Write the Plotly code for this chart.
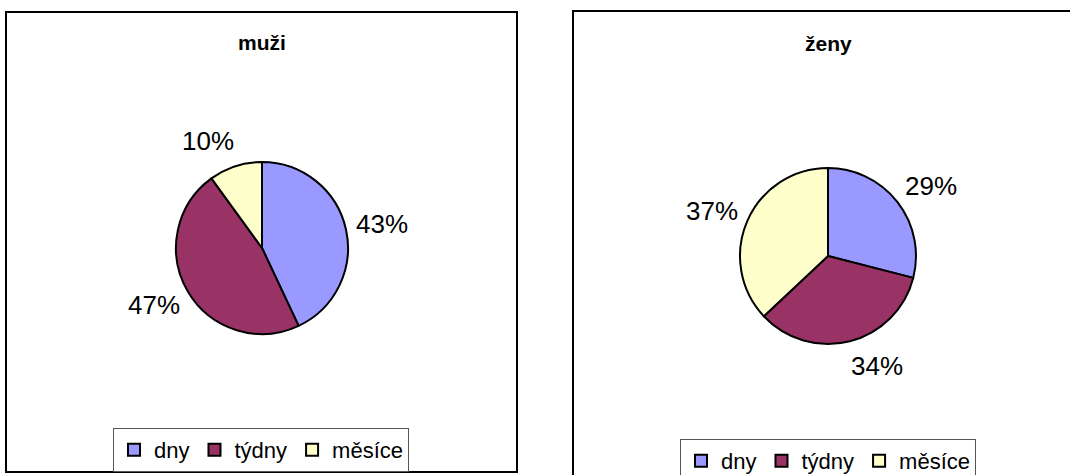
import math
import plotly.graph_objects as go

# Answer categories and shares (%) for each group
categories = ["dny", "týdny", "měsíce"]
men_share = [43, 47, 10]
women_share = [29, 34, 37]
colors = ["#9999FF", "#993366", "#FFFFCC"]

W, H = 1070, 475
FONT = "Liberation Sans, Arial, sans-serif"


def px_x(x):
    return x / W


def px_y(y):
    return 1 - y / H


def pie_domain(cx, cy, r):
    return dict(x=[px_x(cx - r), px_x(cx + r)], y=[px_y(cy + r), px_y(cy - r)])


def percent_labels(values, cx, cy, r, gap=12, half_w=24, half_h=14):
    """Percent labels set just outside each slice, at the slice's mid-angle."""
    total = sum(values)
    notes = []
    start = 0.0
    for v in values:
        mid = (start + v / 2) / total * 2 * math.pi
        start += v
        dx, dy = math.sin(mid), -math.cos(mid)
        x = cx + dx * (r + gap) + half_w * (1 if dx >= 0 else -1)
        y = cy + dy * (r + gap) + half_h * dy
        notes.append(dict(
            text=f"{round(v / total * 100)}%", x=px_x(x), y=px_y(y),
            xref="paper", yref="paper", xanchor="center", yanchor="middle",
            showarrow=False, font=dict(family=FONT, size=26, color="black")))
    return notes


pies = [
    # values, centre x, centre y, radius, legend, label suffix
    (men_share, 262, 248, 86, "legend", ""),
    (women_share, 828, 256, 88, "legend2", "\u200b"),
]

fig = go.Figure()
annotations = []
for values, cx, cy, r, leg, suffix in pies:
    fig.add_trace(go.Pie(
        labels=[c + suffix for c in categories], values=values, sort=False,
        direction="clockwise", rotation=0, domain=pie_domain(cx, cy, r),
        marker=dict(colors=colors, line=dict(color="black", width=2)),
        textinfo="none", hoverinfo="label+percent",
        legend=leg, showlegend=True,
    ))
    annotations += percent_labels(values, cx, cy, r)

legend_style = dict(
    orientation="h", xanchor="center", yanchor="top",
    bgcolor="white", bordercolor="#555555", borderwidth=1,
    font=dict(family=FONT, size=22, color="black"),
    traceorder="normal",
)

# Panel frames
frames = [(6, 12, 517, 472), (573, 11, 1085, 492)]
shapes = [
    dict(type="rect", xref="paper", yref="paper",
         x0=px_x(x0), x1=px_x(x1), y0=px_y(y1), y1=px_y(y0),
         line=dict(color="black", width=2), fillcolor="rgba(0,0,0,0)", layer="below")
    for x0, y0, x1, y1 in frames
]

titles = [("muži", 262, 42), ("ženy", 828, 43)]
annotations += [
    dict(text=f"<b>{t}</b>", x=px_x(x), y=px_y(y), xref="paper", yref="paper",
         xanchor="center", yanchor="middle", showarrow=False,
         font=dict(family=FONT, size=21, color="black"))
    for t, x, y in titles
]

fig.update_layout(
    width=W, height=H,
    margin=dict(l=0, r=0, t=0, b=0, autoexpand=False),
    paper_bgcolor="white", plot_bgcolor="white",
    shapes=shapes, annotations=annotations,
    legend=dict(x=px_x(261), y=px_y(428), **legend_style),
    legend2=dict(x=px_x(828), y=px_y(439), **legend_style),
)

fig.write_html("out.html")
